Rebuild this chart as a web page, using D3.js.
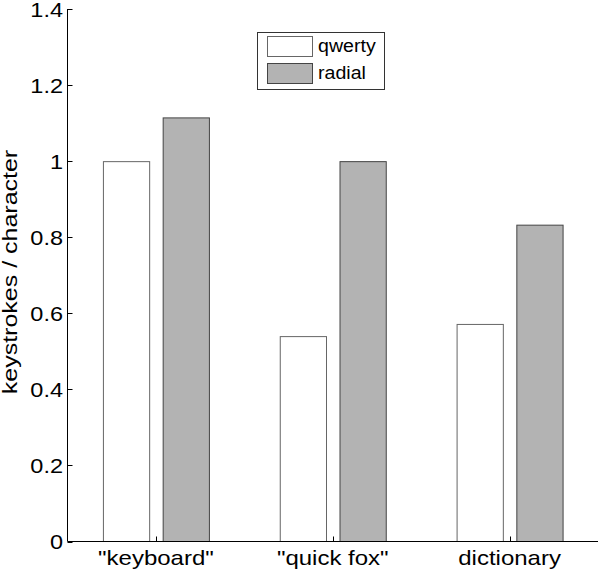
<!DOCTYPE html>
<html><head><meta charset="utf-8">
<script src="https://cdn.jsdelivr.net/npm/d3@7/dist/d3.min.js"></script>
<style>body{margin:0;background:#fff}svg{display:block}text{font-family:"Liberation Sans",Arial,sans-serif;fill:#000}</style>
</head><body><svg id="c" width="600" height="573"></svg>
<script>
const categories = ['"keyboard"', '"quick fox"', 'dictionary'];
const seriesNames = ["qwerty", "radial"];
const qwerty = [1.0, 0.54, 0.572];
const radial = [1.115, 1.0, 0.833];
const yTickValues = [0, 0.2, 0.4, 0.6, 0.8, 1.0, 1.2, 1.4];
const yLabel = "keystrokes / character";
const colors = ["#ffffff", "#b3b3b3"];
const strokes = ["#666666", "#444444"];

const svg = d3.select("#c");
const L = 67.5, R = 598, T = 9, B = 541.5;
const x = d3.scaleBand().domain(categories).range([L, R]);
const y = d3.scaleLinear().domain([0, 1.4]).range([B, T]);
const inner = d3.scaleBand().domain(seriesNames).range([-53, 53]).paddingInner(0.226);

const series = [qwerty, radial];
series.forEach((vals, si) => {
  svg.append("g").selectAll("rect").data(vals).join("rect")
    .attr("x", (d, i) => x(categories[i]) + x.bandwidth() / 2 + inner(seriesNames[si]) + 0.5)
    .attr("y", d => y(d) + 0.5)
    .attr("width", inner.bandwidth())
    .attr("height", d => B - y(d) - 0.5)
    .attr("fill", colors[si])
    .attr("stroke", strokes[si])
    .attr("stroke-width", 1);
});

// axes
const ax = svg.append("g").attr("stroke", "#000").attr("stroke-width", 1).attr("fill", "none");
ax.append("line").attr("x1", L).attr("x2", L).attr("y1", T).attr("y2", B);
ax.append("line").attr("x1", L).attr("x2", R).attr("y1", B).attr("y2", B);
yTickValues.forEach(v => {
  ax.append("line").attr("x1", L).attr("x2", L + 5).attr("y1", Math.round(y(v)) + 0.5).attr("y2", Math.round(y(v)) + 0.5);
});
categories.forEach(c => {
  const cx = Math.round(x(c) + x.bandwidth() / 2) + 0.5;
  ax.append("line").attr("x1", cx).attr("x2", cx).attr("y1", B).attr("y2", B - 5);
});

const fmt = d3.format("~g");
yTickValues.forEach(v => {
  svg.append("text").attr("transform", `translate(63,${y(v) + 7.5}) scale(1.12,1)`)
    .attr("text-anchor", "end").style("font-size", "21px").text(fmt(v));
});
categories.forEach(c => {
  svg.append("text").attr("transform", `translate(${x(c) + x.bandwidth() / 2},565) scale(1.2,1)`)
    .attr("text-anchor", "middle").style("font-size", "20px").text(c);
});
svg.append("text").attr("transform", `translate(17,272) rotate(-90) scale(1.25,1)`)
  .attr("text-anchor", "middle").style("font-size", "20px").text(yLabel);

// legend
const lg = svg.append("g");
lg.append("rect").attr("x", 257.5).attr("y", 32.5).attr("width", 127).attr("height", 57)
  .attr("fill", "#fff").attr("stroke", "#333");
seriesNames.forEach((n, i) => {
  lg.append("rect").attr("x", 267.5).attr("y", 36.5 + i * 27).attr("width", 45).attr("height", 20)
    .attr("fill", colors[i]).attr("stroke", strokes[i]);
  lg.append("text").attr("transform", `translate(318,${52 + i * 27}) scale(1.12,1)`)
    .style("font-size", "17.5px").text(n);
});
</script></body></html>
